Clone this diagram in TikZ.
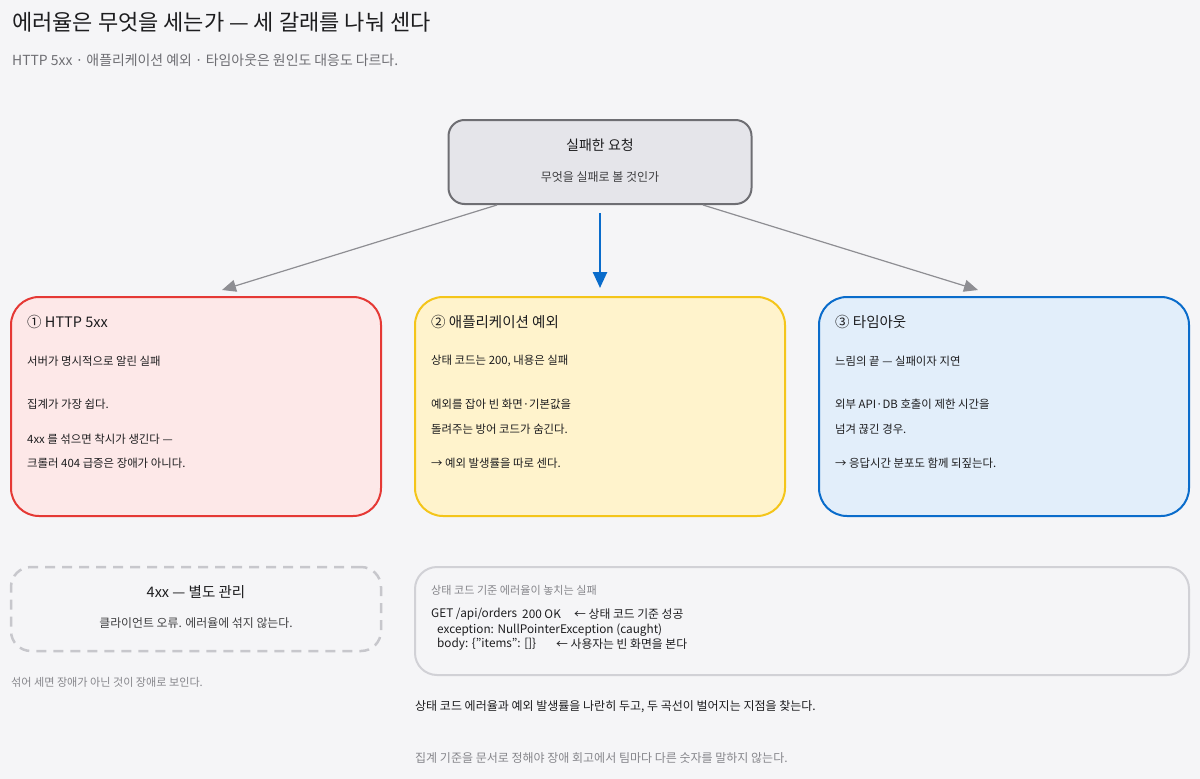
\documentclass[tikz,border=0pt]{standalone}
\usepackage{fontspec}
\setmainfont{Noto Sans CJK KR}
\usetikzlibrary{arrows.meta}
\usetikzlibrary{positioning}
\usetikzlibrary{calc}
\definecolor{bgcol}{HTML}{F5F5F7}
\definecolor{ink}{HTML}{1D1D1F}
\definecolor{mute}{HTML}{6E6E73}
\definecolor{faint}{HTML}{86868B}
\definecolor{reqfill}{HTML}{E5E5EA}
\definecolor{reqdraw}{HTML}{6E6E73}
\definecolor{redline}{HTML}{E53935}
\definecolor{redfill}{HTML}{FDE8E8}
\definecolor{yelline}{HTML}{F4C51A}
\definecolor{yelfill}{HTML}{FFF3CC}
\definecolor{bluline}{HTML}{0A6CCB}
\definecolor{blufill}{HTML}{E2EEFA}
\definecolor{linkgray}{HTML}{8E8E93}
\definecolor{dashgray}{HTML}{C7C7CC}
\definecolor{codeline}{HTML}{D1D1D6}
\tikzset{
    card/.style={
        rectangle,
        rounded corners=28pt,
        line width=2pt,
        minimum width=370pt,
        minimum height=219pt
    },
    link/.style={
        -{Triangle[length=14pt,width=12pt]},
        line width=1.2pt,
        draw=linkgray
    }
}

\begin{document}
\begin{tikzpicture}[
x=1pt, y=-1pt,
txt/.style={inner sep=0pt, anchor=west, text=ink},
ttl/.style={txt, font=\fontsize{22}{26}\selectfont},
sub/.style={txt, text=mute, font=\fontsize{13.9}{17}\selectfont},
head/.style={txt, font=\fontsize{14.5}{17}\selectfont},
body/.style={txt, font=\fontsize{11.4}{14}\selectfont},
code/.style={txt, font=\fontsize{11.8}{14}\selectfont},
note/.style={txt, text=faint, font=\fontsize{11.1}{14}\selectfont}
]
\fill[bgcol] (0,0) rectangle (1200,779);
\useasboundingbox (0,0) rectangle (1200,779);

\node[ttl] (title) at (12,22) {에러율은 무엇을 세는가 — 세 갈래를 나눠 센다};
\node[sub] (subtitle) at (12,60) {HTTP 5xx · 애플리케이션 예외 · 타임아웃은 원인도 대응도 다르다.};

% top request box
\node[rectangle, rounded corners=16pt, line width=2pt, draw=reqdraw, fill=reqfill,
      minimum width=303pt, minimum height=84pt] (req) at (600,162) {};
\node[inner sep=0pt, text=ink, font=\fontsize{14}{17}\selectfont] (reqt) at (600,145) {실패한 요청};
\node[inner sep=0pt, text=ink!85, font=\fontsize{12}{15}\selectfont] (reqs) at (600,177) {무엇을 실패로 볼 것인가};

% three kinds
\node[card, draw=redline, fill=redfill] (http) at (196,406.5) {};
\node[card, draw=yelline, fill=yelfill, right=32pt of http] (app) {};
\node[card, draw=bluline, fill=blufill, right=32pt of app] (tmo) {};

\draw[link] ($(req.south)+(-103,0)$) -- ($(http.north)+(26,-6)$);
\draw[link] ($(req.south)+(103,0)$) -- ($(tmo.north)+(-26,-6)$);
\draw[-{Triangle[length=16pt,width=14pt]}, line width=2.5pt, draw=bluline, fill=bluline]
    ($(req.south)+(0,8)$) -- ($(app.north)+(0,-8)$);

\node[head] (h1) at ($(http.north west)+(17,26)$) {① HTTP 5xx};
\node[body] (h1a) at ($(http.north west)+(17,65)$) {서버가 명시적으로 알린 실패};
\node[body] (h1b) at ($(http.north west)+(17,108)$) {집계가 가장 쉽다.};
\node[body] (h1c) at ($(http.north west)+(17,143)$) {4xx 를 섞으면 착시가 생긴다 —};
\node[body] (h1d) at ($(http.north west)+(17,167)$) {크롤러 404 급증은 장애가 아니다.};

\node[head] (h2) at ($(app.north west)+(17,26)$) {② 애플리케이션 예외};
\node[body] (h2a) at ($(app.north west)+(17,65)$) {상태 코드는 200, 내용은 실패};
\node[body] (h2b) at ($(app.north west)+(17,108)$) {예외를 잡아 빈 화면·기본값을};
\node[body] (h2c) at ($(app.north west)+(17,133)$) {돌려주는 방어 코드가 숨긴다.};
\node[body] (h2d) at ($(app.north west)+(17,167)$) {→ 예외 발생률을 따로 센다.};

\node[head] (h3) at ($(tmo.north west)+(17,26)$) {③ 타임아웃};
\node[body] (h3a) at ($(tmo.north west)+(17,65)$) {느림의 끝 — 실패이자 지연};
\node[body] (h3b) at ($(tmo.north west)+(17,108)$) {외부 API·DB 호출이 제한 시간을};
\node[body] (h3c) at ($(tmo.north west)+(17,133)$) {넘겨 끊긴 경우.};
\node[body] (h3d) at ($(tmo.north west)+(17,167)$) {→ 응답시간 분포도 함께 되짚는다.};

% 4xx aside
\node[rectangle, rounded corners=20pt, line width=2.5pt, draw=dashgray,
      dash pattern=on 10pt off 7pt, minimum width=370pt, minimum height=84pt] (cli) at (196,609) {};
\node[inner sep=0pt, text=ink, font=\fontsize{14.5}{17}\selectfont] (clit) at (196,592) {4xx — 별도 관리};
\node[inner sep=0pt, text=ink!85, font=\fontsize{11.9}{14}\selectfont] (clis) at (196,623) {클라이언트 오류. 에러율에 섞지 않는다.};
\node[note] (mix) at (11,682) {섞어 세면 장애가 아닌 것이 장애로 보인다.};

% code sample
\node[rectangle, rounded corners=22pt, line width=2pt, draw=codeline,
      minimum width=774pt, minimum height=108pt] (code) at (802,621) {};
\node[note] (codet) at (431,590) {상태 코드 기준 에러율이 놓치는 실패};
\node[code] (c1) at (431,614) {GET /api/orders};
\node[code] (c1b) at (522,614) {200 OK};
\node[code] (c1c) at (574,614) {← 상태 코드 기준 성공};
\node[code] (c2) at (437,630) {exception: NullPointerException (caught)};
\node[code] (c3) at (437,644) {body: \{"items": []\}};
\node[code] (c3b) at (556,644) {← 사용자는 빈 화면을 본다};

\node[txt, font=\fontsize{12}{15}\selectfont] (tip) at (415,707) {상태 코드 에러율과 예외 발생률을 나란히 두고, 두 곡선이 벌어지는 지점을 찾는다.};
\node[txt, text=faint, font=\fontsize{12}{15}\selectfont] (rule) at (415,758) {집계 기준을 문서로 정해야 장애 회고에서 팀마다 다른 숫자를 말하지 않는다.};
\end{tikzpicture}
\end{document}
